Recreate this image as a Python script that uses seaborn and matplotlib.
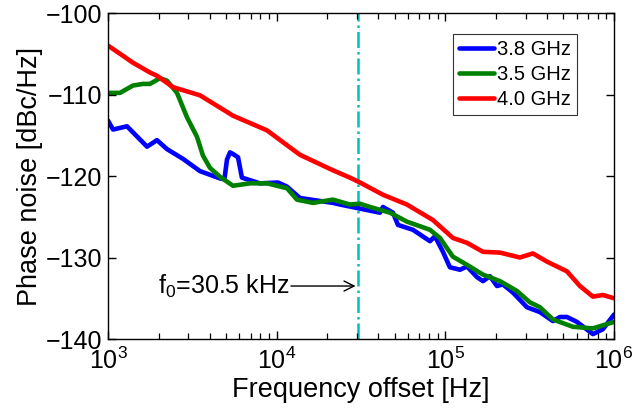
import numpy as np
import pandas as pd
import matplotlib
matplotlib.use("Agg")
import matplotlib.pyplot as plt
import seaborn as sns

# ---- data ----
freq_38 = [1000, 1071, 1296, 1704, 1951, 2237, 2784, 3510, 4613, 4900, 5074, 5288,
           5510, 5900, 6223, 7962, 10180, 11510, 13740, 21570, 23730, 40960, 42670,
           48900, 52370, 64260, 81070, 86730, 96790, 106400, 122100, 134400, 153900,
           167100, 183800, 202300, 219400, 251600, 304600, 363600, 434400, 477900,
           526000, 602500, 749700, 859300, 1000000]
pn_38 = [-113.2, -114.3, -113.9, -116.4, -115.6, -116.7, -117.9, -119.4, -120.3, -120.4,
         -118.0, -117.1, -117.3, -117.7, -120.2, -120.9, -120.8, -121.3, -122.7, -123.3,
         -123.5, -124.5, -123.8, -124.5, -126.0, -126.6, -128.0, -127.4, -129.3, -131.2,
         -131.5, -131.1, -132.4, -132.9, -132.3, -133.5, -133.3, -134.3, -136.1, -136.7,
         -137.8, -137.3, -137.3, -137.9, -139.4, -138.8, -137.0]

freq_35 = [1000, 1178, 1406, 1612, 1774, 2033, 2237, 2565, 2940, 3371, 3656, 4024, 4613,
           5510, 6946, 8765, 11510, 13190, 16410, 21570, 27180, 31190, 35730, 46970,
           59190, 81070, 92860, 110900, 134400, 167100, 210800, 265600, 317100, 363600,
           434400, 570600, 749700, 1000000]
pn_35 = [-109.8, -109.8, -108.9, -108.7, -108.7, -108.0, -108.3, -109.8, -112.8, -115.2,
         -117.5, -119.0, -120.1, -121.2, -120.9, -120.9, -121.5, -122.9, -123.3, -122.9,
         -123.5, -123.4, -123.8, -124.5, -125.6, -126.6, -127.6, -129.9, -130.9, -132.1,
         -132.9, -134.1, -135.5, -136.1, -137.6, -138.5, -138.7, -137.9]

freq_40 = [1000, 1178, 1406, 1774, 1951, 2428, 3510, 5510, 8765, 13740, 21570, 27180,
           31190, 42670, 59190, 84360, 110900, 134400, 167100, 210800, 276800, 330400,
           400100, 526000, 627900, 749700, 860000, 1000000]
pn_40 = [-104.0, -105.0, -106.1, -107.3, -107.7, -109.1, -110.1, -112.6, -114.4, -117.4,
         -119.3, -120.2, -120.8, -122.3, -123.5, -125.4, -127.6, -128.2, -129.3, -129.4,
         -130.0, -129.5, -130.5, -131.7, -133.5, -134.8, -134.6, -135.0]

labels = ["3.8 GHz", "3.5 GHz", "4.0 GHz"]
colors = ["#0000ff", "#008000", "#ff0000"]
f0 = 30500
f0_label = "f$_0$=30.5 kHz"
xticks = [1e3, 1e4, 1e5, 1e6]
yticks = [-140, -130, -120, -110, -100]

df = pd.concat([
    pd.DataFrame({"f": freq_38, "pn": pn_38, "series": labels[0]}),
    pd.DataFrame({"f": freq_35, "pn": pn_35, "series": labels[1]}),
    pd.DataFrame({"f": freq_40, "pn": pn_40, "series": labels[2]}),
], ignore_index=True)

sns.set_style("ticks")
plt.rcParams.update({
    "font.family": ["Liberation Sans", "DejaVu Sans"],
    "mathtext.fontset": "custom",
    "mathtext.rm": "Liberation Sans",
    "mathtext.it": "Liberation Sans",
    "text.color": "black", "axes.labelcolor": "black",
    "xtick.color": "black", "ytick.color": "black",
    "xtick.direction": "in", "ytick.direction": "in",
    "xtick.top": True, "xtick.bottom": True,
    "ytick.left": True, "ytick.right": True,
    "xtick.major.size": 6, "ytick.major.size": 6,
    "xtick.minor.size": 4, "ytick.minor.size": 0,
    "xtick.major.width": 1.0, "ytick.major.width": 1.0,
    "xtick.minor.width": 0.9,
    "xtick.labelsize": 18, "ytick.labelsize": 18,
    "xtick.major.pad": 6, "ytick.major.pad": 4,
})

fig = plt.figure(figsize=(6.36, 4.11), dpi=100)
ax = fig.add_axes([108 / 636, (411 - 339) / 411, (614 - 108) / 636, (339 - 13) / 411])

sns.lineplot(data=df, x="f", y="pn", hue="series", palette=dict(zip(labels, colors)),
             hue_order=labels, linewidth=3.3, ax=ax, sort=False, estimator=None)
for ln in ax.get_lines():
    ln.set_solid_joinstyle("round")
    ln.set_solid_capstyle("round")

ax.set_xscale("log")
ax.set_xlim(1e3, 1e6)
ax.set_ylim(-140, -100)
ax.set_xticks(xticks)
ax.set_yticks(yticks)

ax.axvline(f0, color="#00bfbf", lw=1.8, ls="-.", zorder=1)
ax.annotate("", xy=(f0, -133.5), xytext=(11700, -133.5),
            arrowprops=dict(arrowstyle="->", color="black", lw=1.0, mutation_scale=18))
ax.text(11900, -133.5, f0_label, ha="right", va="center", fontsize=18)

for s in ax.spines.values():
    s.set_visible(True)
    s.set_color("black")
    s.set_linewidth(1.0)
    s.set_zorder(5)

ax.tick_params(axis="both", which="both", direction="in", top=True, right=True,
               bottom=True, left=True, color="black", labelcolor="black")
ax.tick_params(axis="both", which="major", length=6, width=1.0)
ax.tick_params(axis="x", which="minor", length=4, width=0.9)
ax.tick_params(axis="y", which="minor", left=False, right=False)
ax.set_axisbelow(False)

ax.set_xlabel("Frequency offset [Hz]", fontsize=19.5, labelpad=2)
ax.set_ylabel("Phase noise [dBc/Hz]", fontsize=19.5, labelpad=2)

leg = ax.legend(loc="upper right",
                bbox_to_anchor=((577 - 108) / (614 - 108), (339 - 34) / (339 - 13)),
                bbox_transform=ax.transAxes, borderaxespad=0, fontsize=14.5,
                frameon=True, fancybox=False, edgecolor="black", handlelength=1.75,
                handletextpad=0.15, labelspacing=0.3, borderpad=0.3)
leg.get_frame().set_linewidth(0.8)
for line in leg.get_lines():
    line.set_linewidth(3.3)

# make sure tick marks are drawn on all four sides
fig.canvas.draw()
for axis in (ax.xaxis, ax.yaxis):
    for t in axis.get_major_ticks():
        for tl in (t.tick1line, t.tick2line):
            tl.set_visible(True)
            tl.set_markersize(6)
            tl.set_markeredgewidth(1.0)
            tl.set_color("black")
for t in ax.xaxis.get_minor_ticks():
    for tl in (t.tick1line, t.tick2line):
        tl.set_visible(True)
        tl.set_markersize(4)
        tl.set_markeredgewidth(0.9)
        tl.set_color("black")

fig.savefig("out.png", dpi=100, facecolor="white")
